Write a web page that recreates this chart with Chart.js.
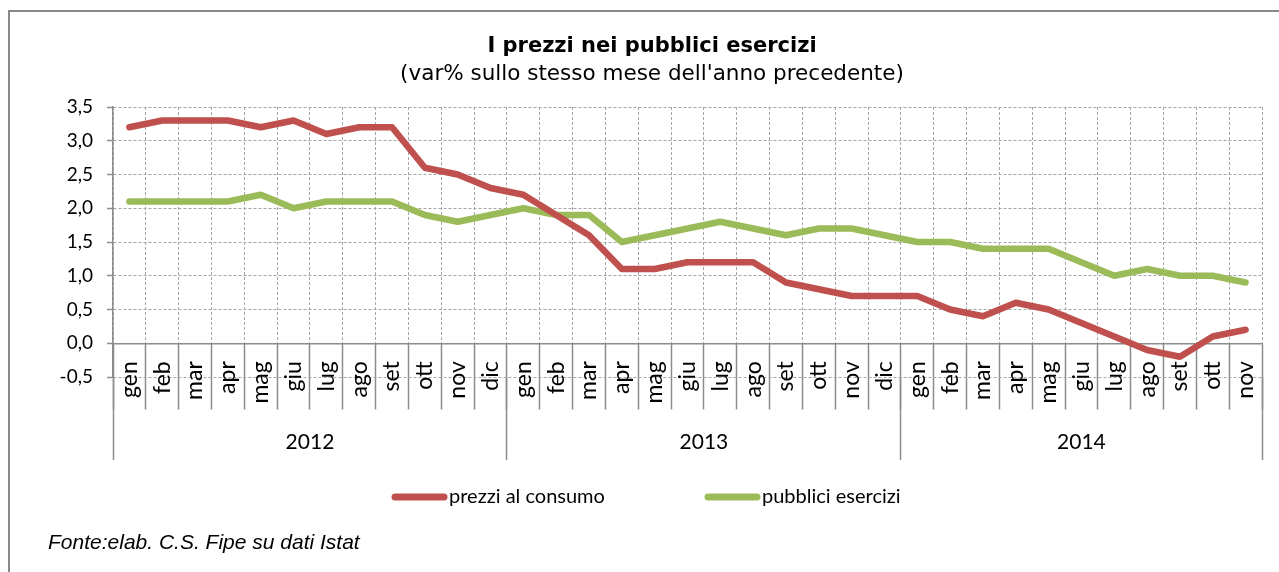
<!DOCTYPE html>
<html>
<head>
<meta charset="utf-8">
<title>I prezzi nei pubblici esercizi</title>
<script src="https://cdn.jsdelivr.net/npm/chart.js@4.4.1/dist/chart.umd.min.js"></script>
<style>
    html, body { margin: 0; padding: 0; background: #fff; }
    #wrap { position: relative; width: 1279px; height: 572px; overflow: hidden; }
    #frame { position: absolute; left: 8px; top: 10px; width: 1320px; height: 620px; border: 2px solid #898989; box-sizing: border-box; }
    #chart { position: absolute; left: 0; top: 0; }
    #fonte { position: absolute; left: 48px; top: 530px; font: italic 21px "Liberation Sans", Arial, sans-serif; color: #000; }
</style>
</head>
<body>
<div id="wrap">
    <div id="frame"></div>
    <canvas id="chart" width="1279" height="572"></canvas>
    <div id="fonte">Fonte:elab. C.S. Fipe su dati Istat</div>
</div>
<script>
// Month labels (gen 2012 -> nov 2014)
const monthNames = [
    "gen", "feb", "mar", "apr", "mag", "giu", "lug", "ago", "set", "ott", "nov", "dic",
    "gen", "feb", "mar", "apr", "mag", "giu", "lug", "ago", "set", "ott", "nov", "dic",
    "gen", "feb", "mar", "apr", "mag", "giu", "lug", "ago", "set", "ott", "nov"
];
const years = ["2012", "2013", "2014"];
const monthsPerYear = [12, 12, 11];

const seriesNames = ["prezzi al consumo", "pubblici esercizi"];

// var% on the same month of the previous year
const consumerPrices = [
    3.2, 3.3, 3.3, 3.3, 3.2, 3.3, 3.1, 3.2, 3.2, 2.6, 2.5, 2.3,
    2.2, 1.9, 1.6, 1.1, 1.1, 1.2, 1.2, 1.2, 0.9, 0.8, 0.7, 0.7,
    0.7, 0.5, 0.4, 0.6, 0.5, 0.3, 0.1, -0.1, -0.2, 0.1, 0.2
];
const publicEstablishments = [
    2.1, 2.1, 2.1, 2.1, 2.2, 2.0, 2.1, 2.1, 2.1, 1.9, 1.8, 1.9,
    2.0, 1.9, 1.9, 1.5, 1.6, 1.7, 1.8, 1.7, 1.6, 1.7, 1.7, 1.6,
    1.5, 1.5, 1.4, 1.4, 1.4, 1.2, 1.0, 1.1, 1.0, 1.0, 0.9
];

const yMin = -0.5;
const yMax = 3.5;
const yStep = 0.5;

const RED = "#C0504D";
const GREEN = "#9BBB59";
const AXIS_GRAY = "#8c8c8c";
const GRID_GRAY = "#a6a6a6";

// year boundaries / centres in "month units" for the year axis
const yearBounds = [0];
monthsPerYear.forEach((n, i) => yearBounds.push(yearBounds[i] + n));
const yearCentres = {};
years.forEach((y, i) => { yearCentres[(yearBounds[i] + yearBounds[i + 1]) / 2] = y; });

/* -------------------------------
   Legend drawn as thick line samples
---------------------------------*/
const lineLegend = {
    id: "lineLegend",
    afterDraw(chart, args, opts) {
        const ctx = chart.ctx;
        ctx.save();
        chart.data.datasets.forEach((ds, i) => {
            const x = opts.starts[i];
            ctx.strokeStyle = ds.borderColor;
            ctx.lineWidth = 7;
            ctx.lineCap = "round";
            ctx.beginPath();
            ctx.moveTo(x + 3, opts.y);
            ctx.lineTo(x + opts.sample - 3, opts.y);
            ctx.stroke();

            ctx.fillStyle = "#000";
            ctx.font = "20px Lato";
            ctx.textBaseline = "middle";
            ctx.textAlign = "left";
            ctx.fillText(ds.label, x + opts.sample + 2, opts.y);
        });
        ctx.restore();
    }
};

const ctx = document.getElementById("chart").getContext("2d");

new Chart(ctx, {
    type: "line",
    data: {
        labels: monthNames,
        datasets: [
            {
                label: seriesNames[0],
                data: consumerPrices,
                borderColor: RED,
                backgroundColor: RED,
                borderWidth: 6.5,
                borderJoinStyle: "round",
                borderCapStyle: "round",
                pointRadius: 0,
                tension: 0,
                xAxisID: "x",
                yAxisID: "y"
            },
            {
                label: seriesNames[1],
                data: publicEstablishments,
                borderColor: GREEN,
                backgroundColor: GREEN,
                borderWidth: 6.5,
                borderJoinStyle: "round",
                borderCapStyle: "round",
                pointRadius: 0,
                tension: 0,
                xAxisID: "x",
                yAxisID: "y"
            }
        ]
    },
    options: {
        responsive: false,
        animation: false,
        layout: { padding: { left: 42, right: 17, top: 0, bottom: 0 } },
        plugins: {
            legend: { display: false },
            tooltip: { enabled: false },
            title: {
                display: true,
                text: "I prezzi nei pubblici esercizi",
                color: "#000",
                font: { family: "DejaVu Sans", size: 21, weight: "bold" },
                padding: { top: 34, bottom: 0 }
            },
            subtitle: {
                display: true,
                text: "(var% sullo stesso mese dell'anno precedente)",
                color: "#000",
                font: { family: "DejaVu Sans", size: 21.5 },
                padding: { top: 2, bottom: 20 }
            },
            lineLegend: { starts: [392, 705], sample: 55, y: 497 }
        },
        scales: {
            x: {
                type: "category",
                offset: true,
                position: { y: 0 },
                ticks: {
                    autoSkip: false,
                    minRotation: 90,
                    maxRotation: 90,
                    padding: -47,
                    color: "#000",
                    font: { family: "Lato", size: 23 }
                },
                grid: {
                    offset: true,
                    color: GRID_GRAY,
                    tickLength: 65,
                    tickColor: AXIS_GRAY,
                    tickWidth: 1.5
                },
                border: { color: AXIS_GRAY, width: 1.5, dash: [3, 2] }
            },
            x2: {
                type: "linear",
                position: "bottom",
                min: 0,
                max: monthNames.length,
                afterBuildTicks: (scale) => {
                    const vals = yearBounds.concat(Object.keys(yearCentres).map(Number)).sort((a, b) => a - b);
                    scale.ticks = vals.map(v => ({ value: v }));
                },
                afterFit: (scale) => { scale.height = 195; },
                ticks: {
                    autoSkip: false,
                    maxRotation: 0,
                    padding: -30,
                    color: "#000",
                    font: { family: "Lato", size: 21 },
                    callback: (v) => yearCentres[v] || ""
                },
                grid: {
                    drawOnChartArea: false,
                    tickLength: 83,
                    tickWidth: 1.5,
                    tickColor: (c) => (c.tick && yearBounds.includes(c.tick.value)) ? AXIS_GRAY : "rgba(0,0,0,0)"
                },
                border: { display: false }
            },
            y: {
                min: yMin,
                max: yMax,
                afterFit: (scale) => { scale.width = 71; },
                ticks: {
                    stepSize: yStep,
                    padding: 14,
                    color: "#000",
                    font: { family: "Lato", size: 19 },
                    callback: (v) => v.toFixed(1).replace(".", ",")
                },
                grid: {
                    color: GRID_GRAY,
                    tickLength: 6,
                    tickColor: AXIS_GRAY,
                    tickWidth: 1.5
                },
                border: { color: AXIS_GRAY, width: 1.5, dash: [3, 2] }
            }
        }
    },
    plugins: [lineLegend]
});
</script>
</body>
</html>
